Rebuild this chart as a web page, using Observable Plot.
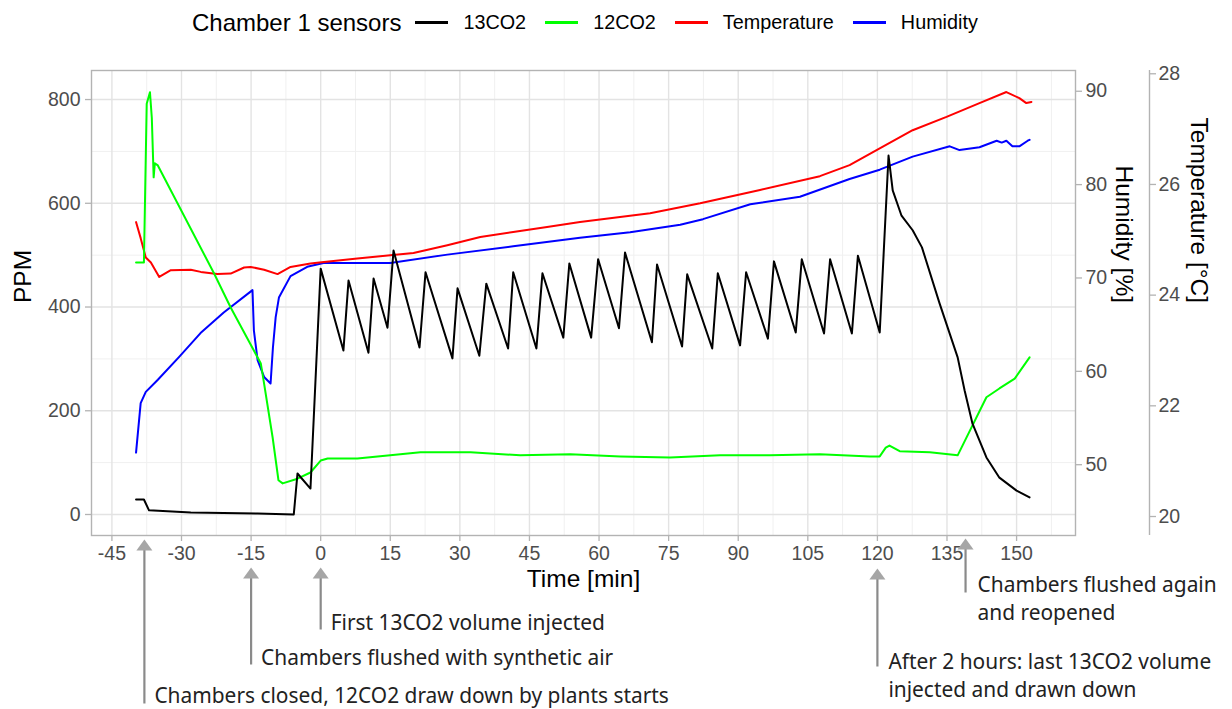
<!DOCTYPE html>
<html>
<head>
<meta charset="utf-8">
<script src="https://cdn.jsdelivr.net/npm/d3@7"></script>
<script src="https://cdn.jsdelivr.net/npm/@observablehq/plot@0.6"></script>
<style>
  html, body { margin: 0; padding: 0; background: #fff; }
  #legend { height: 45px; display: flex; align-items: center; padding-left: 192px;
            font-family: "Liberation Sans", Arial, sans-serif; color: #000; box-sizing: border-box; }
  #legend .lt { font-size: 24px; margin-right: 14px; }
  #legend .sw { display: inline-block; width: 33px; height: 2.5px; margin-right: 15px; }
  #legend .ll { font-size: 19.8px; margin-right: 19px; }
</style>
</head>
<body>
<div id="legend"></div>
<div id="chart"></div>
<script>
// ---------------- data ----------------
// [time in min, value]
const co2_13 = [
  [-39.8, 29], [-38.1, 29], [-37.0, 8], [-28.0, 4], [-13.6, 2], [-5.8, 0], [-5.0, 79], [-2.2, 50],
  [0, 474], [4.9, 316], [6.0, 451], [10.3, 312], [11.4, 455], [14.4, 360], [15.7, 509], [21.3, 322],
  [22.6, 467], [28.4, 301], [29.5, 436], [34.2, 306], [35.7, 445], [40.4, 320], [41.5, 467], [46.5, 320],
  [47.8, 465], [52.3, 341], [53.6, 484], [58.3, 341], [59.8, 492], [64.3, 359], [65.6, 505], [71.4, 332],
  [72.5, 482], [77.9, 324], [79.0, 463], [84.4, 320], [85.6, 465], [90.4, 326], [91.7, 467], [96.4, 339],
  [97.7, 488], [102.4, 351], [103.7, 492], [108.5, 349], [109.8, 492], [114.5, 349], [115.8, 499], [120.5, 351],
  [122.4, 692], [123.3, 625], [125.2, 576], [127.6, 548], [129.6, 515], [133.4, 407], [137.3, 303],
  [138.8, 239], [140.5, 175], [143.5, 110], [146.3, 71], [150.0, 46], [152.8, 33]
];
const co2_12 = [
  [-39.8, 486], [-38.1, 486], [-37.5, 792], [-36.8, 814], [-36.4, 765], [-36.0, 650], [-35.75, 677],
  [-35.1, 673], [-23.0, 465], [-19.4, 399], [-14.4, 316], [-12.9, 291], [-12.3, 258], [-10.35, 148],
  [-9.1, 66], [-8.2, 60], [-5.0, 69], [-2.2, 81], [0, 104], [1.5, 108], [7.9, 108], [15.0, 114],
  [21.5, 120], [32.3, 120], [43.0, 114], [53.8, 116], [64.6, 112], [75.3, 110], [86.1, 114], [96.8, 114],
  [107.6, 116], [118.4, 112], [120.5, 112], [121.8, 129], [122.6, 133], [124.8, 122], [131.3, 120],
  [137.3, 114], [143.5, 226], [146.3, 243], [149.6, 262], [152.8, 303]
];
// °C
const temperature = [
  [-39.8, 25.32], [-38.8, 25.03], [-37.7, 24.68], [-36.6, 24.59], [-34.8, 24.33], [-32.3, 24.45],
  [-28.0, 24.46], [-25.85, 24.42], [-22.3, 24.38], [-19.4, 24.39], [-16.5, 24.50], [-15.1, 24.51],
  [-12.2, 24.46], [-9.3, 24.38], [-6.5, 24.51], [-2.2, 24.57], [0.7, 24.60], [7.9, 24.66], [15.0, 24.72],
  [20.0, 24.76], [27.3, 24.90], [34.4, 25.05], [41.5, 25.14], [48.8, 25.23], [55.9, 25.32], [71.0, 25.48],
  [81.8, 25.66], [94.7, 25.90], [107.6, 26.15], [114.0, 26.35], [120.5, 26.65], [127.6, 26.98],
  [134.9, 27.22], [142.0, 27.47], [147.8, 27.67], [150.6, 27.56], [152.1, 27.47], [153.2, 27.49]
];
// %
const humidity = [
  [-39.8, 51.3], [-38.8, 56.6], [-37.7, 57.8], [-35.1, 59.1], [-30.6, 61.5], [-25.9, 64.1], [-20.9, 66.3],
  [-14.7, 68.7], [-14.4, 64.4], [-13.6, 61.2], [-12.2, 59.4], [-10.8, 58.7], [-10.3, 62.5], [-9.7, 65.8],
  [-9.0, 67.9], [-6.5, 70.2], [-2.9, 71.2], [0.6, 71.6], [15.0, 71.6], [27.3, 72.5], [41.5, 73.4], [55.9, 74.3],
  [66.7, 74.9], [77.5, 75.7], [82.4, 76.3], [92.6, 77.9], [103.3, 78.7], [114.0, 80.6], [120.5, 81.6],
  [127.6, 83.0], [135.6, 84.1], [137.7, 83.7], [142.0, 84.0], [145.7, 84.7], [146.8, 84.5], [147.8, 84.7],
  [149.1, 84.1], [150.6, 84.1], [152.4, 84.7], [152.8, 84.8]
];

const seriesNames = ["13CO2", "12CO2", "Temperature", "Humidity"];
const seriesColors = ["#000000", "#00ff00", "#ff0000", "#0000ff"];

const xTicks = [-45, -30, -15, 0, 15, 30, 45, 60, 75, 90, 105, 120, 135, 150];
const xMinor = [-37.5, -22.5, -7.5, 7.5, 22.5, 37.5, 52.5, 67.5, 82.5, 97.5, 112.5, 127.5, 142.5, 157.5];
const ppmTicks = [0, 200, 400, 600, 800];
const ppmMinor = [100, 300, 500, 700];
const humTicks = [50, 60, 70, 80, 90];
const tempTicks = [20, 22, 24, 26, 28];

const events = [
  {t: -38, label: "Chambers closed, 12CO2 draw down by plants starts"},
  {t: -15, label: "Chambers flushed with synthetic air"},
  {t: 0, label: "First 13CO2 volume injected"},
  {t: 120, label: "After 2 hours: last 13CO2 volume\ninjected and drawn down"},
  {t: 139, label: "Chambers flushed again\nand reopened"}
];

// ---------------- secondary-axis transforms ----------------
const hum2ppm = h => 18 * h - 804;
const ppm2hum = p => (p + 804) / 18;
const temp2ppm = T => 106.7 * (T - 20) - 3.9;
const ppm2temp = p => (p + 3.9) / 106.7 + 20;

// ---------------- layout (pixels, not data) ----------------
const annoLayout = [
  {top: 4, bottom: 168, base: 167, dx: 10},
  {top: 32, bottom: 129, base: 129, dx: 10},
  {top: 32, bottom: 94, base: 94, dx: 10},
  {top: 33, bottom: 131, base: 161, dx: 11},
  {top: 3, bottom: 57, base: 84, dx: 12}
];
const xDomain = [-49.4, 162.7];
const yDomain = [-40.5, 856];

// ---------------- legend ----------------
const legend = document.getElementById("legend");
legend.innerHTML = `<span class="lt">Chamber 1 sensors</span>` +
  seriesNames.map((n, i) => `<span class="sw" style="background:${seriesColors[i]}"></span><span class="ll">${n}</span>`).join("");

// ---------------- marks ----------------
const toRows = (arr, f = v => v) => arr.map(([t, v]) => ({t, v: f(v)}));
const lineOpts = (i) => ({x: "t", y: "v", stroke: seriesColors[i], strokeWidth: 2, strokeLinejoin: "round"});

const shaftShape = {draw(ctx, l) { ctx.moveTo(0, 0); ctx.lineTo(0, -l); }};
const headShape = {draw(ctx, l) { ctx.moveTo(-8, 0); ctx.lineTo(0, -l); ctx.lineTo(8, 0); ctx.closePath(); }};
const HEAD = 11;

const annoMarks = [];
events.forEach((e, i) => {
  const L = annoLayout[i];
  annoMarks.push(
    Plot.vector([e], {x: "t", frameAnchor: "bottom", dy: L.bottom, length: L.bottom - L.top - HEAD + 1,
      anchor: "start", shape: shaftShape, stroke: "#8a8a8a", strokeWidth: 2.2, strokeLinecap: "butt"}),
    Plot.vector([e], {x: "t", frameAnchor: "bottom", dy: L.top + HEAD, length: HEAD,
      anchor: "start", shape: headShape, fill: "#a6a6a6", stroke: "none"}),
    Plot.text([e], {x: "t", text: "label", frameAnchor: "bottom", dy: L.base, dx: L.dx,
      textAnchor: "start", lineAnchor: "bottom", lineHeight: 1.31, fontSize: 20.9,
      fontFamily: "'Noto Sans', 'Open Sans', sans-serif", fill: "#222"})
  );
});

const axisCommon = {tickSize: 6, fontSize: 19.5, stroke: "#b3b3b3", strokeWidth: 1.3, fill: "#4d4d4d", label: null};

const chart = Plot.plot({
  width: 1232,
  height: 664,
  marginLeft: 91,
  marginRight: 157,
  marginTop: 25,
  marginBottom: 174,
  x: {domain: xDomain},
  y: {domain: yDomain},
  style: {fontFamily: "'Liberation Sans', Arial, sans-serif", background: "#fff", color: "#000", overflow: "visible"},
  marks: [
    Plot.gridX({ticks: xMinor, stroke: "#f0f0f0", strokeOpacity: 1, strokeWidth: 1}),
    Plot.gridY({ticks: ppmMinor, stroke: "#f0f0f0", strokeOpacity: 1, strokeWidth: 1}),
    Plot.gridX({ticks: xTicks, stroke: "#e3e3e3", strokeOpacity: 1, strokeWidth: 1.4}),
    Plot.gridY({ticks: ppmTicks, stroke: "#e3e3e3", strokeOpacity: 1, strokeWidth: 1.4}),
    Plot.line(toRows(humidity, hum2ppm), lineOpts(3)),
    Plot.line(toRows(temperature, temp2ppm), lineOpts(2)),
    Plot.line(toRows(co2_12), lineOpts(1)),
    Plot.line(toRows(co2_13), lineOpts(0)),
    Plot.frame({stroke: "#b3b3b3", strokeWidth: 1.4}),
    Plot.axisX({...axisCommon, ticks: xTicks, tickFormat: d => String(d), tickPadding: 5}),
    Plot.axisY({...axisCommon, anchor: "left", ticks: ppmTicks, tickFormat: d => String(d), tickPadding: 5}),
    Plot.axisY({...axisCommon, anchor: "right", ticks: humTicks.map(hum2ppm),
      tickFormat: d => String(Math.round(ppm2hum(d))), tickPadding: 4}),
    Plot.axisY({...axisCommon, anchor: "right", dx: 74, ticks: tempTicks.map(temp2ppm),
      tickFormat: d => String(Math.round(ppm2temp(d))), tickPadding: 3}),
    Plot.ruleX([xDomain[1]], {dx: 74, stroke: "#b3b3b3", strokeWidth: 1.4}),
    Plot.text(["PPM"], {text: d => d, frameAnchor: "left", dx: -68, rotate: -90, fontSize: 24.5, fill: "#000"}),
    Plot.text(["Time [min]"], {text: d => d, frameAnchor: "bottom", dy: 51, fontSize: 24.5, fill: "#000"}),
    Plot.text(["Humidity [%]"], {text: d => d, frameAnchor: "right", dx: 48, rotate: 90, fontSize: 24.5, fill: "#000"}),
    Plot.text(["Temperature [°C]"], {text: d => d, frameAnchor: "right", dx: 123, rotate: 90, fontSize: 24.5, fill: "#000"}),
    ...annoMarks
  ]
});
document.getElementById("chart").appendChild(chart);
</script>
</body>
</html>
